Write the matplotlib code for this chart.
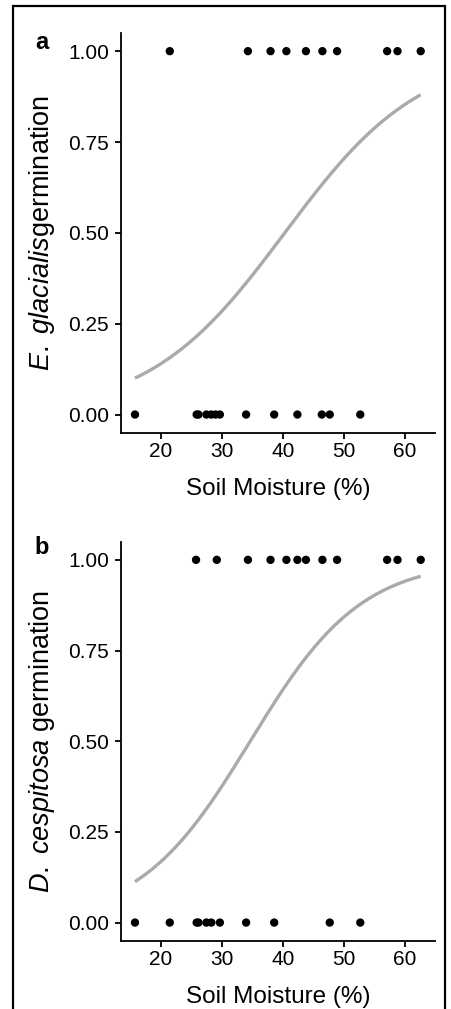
import numpy as np
import matplotlib
matplotlib.use("Agg")
import matplotlib.pyplot as plt
from matplotlib.patches import Rectangle

plt.rcParams['font.family'] = ['Liberation Sans', 'DejaVu Sans']
plt.rcParams['mathtext.fontset'] = 'custom'
plt.rcParams['mathtext.rm'] = 'Liberation Sans'
plt.rcParams['mathtext.it'] = 'Liberation Sans:italic'

# Panel a: E. glacialis (soil moisture of seeds that germinated / did not)
a_x1 = [21.5, 34.3, 38.0, 40.6, 43.8, 46.5, 48.9, 57.1, 58.8, 62.6]
a_x0 = [15.8, 25.9, 26.2, 27.5, 28.3, 29.0, 29.7, 34.0, 38.6, 42.4, 46.4, 47.7, 52.7]
# Panel b: D. cespitosa
b_x1 = [25.8, 29.2, 34.3, 38.0, 40.6, 42.4, 43.8, 46.5, 48.9, 57.1, 58.8, 62.6]
b_x0 = [15.8, 21.5, 25.9, 26.2, 27.5, 28.3, 29.7, 34.0, 38.6, 47.7, 52.7]

# fitted logistic curves (intercept, slope)
a_coef = [-3.61, 0.0895]
b_coef = [-3.79, 0.1093]

xticks = [20, 30, 40, 50, 60]
yticks = [0.0, 0.25, 0.5, 0.75, 1.0]
ytick_labels = ['0.00', '0.25', '0.50', '0.75', '1.00']
ylabels = [r'$\it{E.\ glacialis}$germination', r'$\it{D.\ cespitosa}$ germination']
panel_letters = ['a', 'b']

W, H = 451, 1009
fig = plt.figure(figsize=(W / 100, H / 100), dpi=100)

axes_px = [(120.7, 33.0, 435.0, 432.7), (120.7, 541.7, 435.0, 940.7)]
letter_px = [(41.5, 42.5), (41.5, 548.0)]
data = [(a_x1, a_x0, a_coef), (b_x1, b_x0, b_coef)]

for i in range(2):
    l, t, r, b = axes_px[i]
    ax = fig.add_axes([l / W, 1 - b / H, (r - l) / W, (b - t) / H])
    x1, x0, coef = data[i]
    x = np.array(x1 + x0, dtype=float)
    y = np.array([1.0] * len(x1) + [0.0] * len(x0))
    xs = np.linspace(x.min(), x.max(), 200)
    ys = 1 / (1 + np.exp(-(coef[0] + coef[1] * xs)))
    ax.plot(xs, ys, color='#aaaaaa', lw=2.4, solid_capstyle='butt', zorder=2)
    ax.scatter(x, y, s=36, color='black', edgecolors='none', zorder=3)
    rng = x.max() - x.min()
    ax.set_xlim(x.min() - 0.05 * rng, x.max() + 0.05 * rng)
    ax.set_ylim(-0.05, 1.05)
    ax.set_xticks(xticks)
    ax.set_yticks(yticks)
    ax.set_yticklabels(ytick_labels)
    for s in ['top', 'right']:
        ax.spines[s].set_visible(False)
    for s in ['left', 'bottom']:
        ax.spines[s].set_linewidth(1.3)
    ax.tick_params(axis='both', length=4, width=1.3, labelsize=15, color='black')
    ax.tick_params(axis='y', pad=4.5)
    ax.tick_params(axis='x', pad=3)
    ax.set_xlabel('Soil Moisture (%)', fontsize=17.5)
    ax.set_ylabel(ylabels[i], fontsize=19.5)
    ax.xaxis.set_label_coords(0.5, -0.114)
    ax.yaxis.set_label_coords(-0.203, 0.5)
    lx, ly = letter_px[i]
    fig.text(lx / W, 1 - ly / H, panel_letters[i], fontsize=17, fontweight='bold',
             ha='center', va='center')

fig.patches.append(Rectangle((13 / W, -0.05), (445 - 13) / W, 1.05 - 5.5 / H,
                             transform=fig.transFigure, fill=False,
                             edgecolor='black', linewidth=1.6))

fig.savefig('out.png', dpi=100)
